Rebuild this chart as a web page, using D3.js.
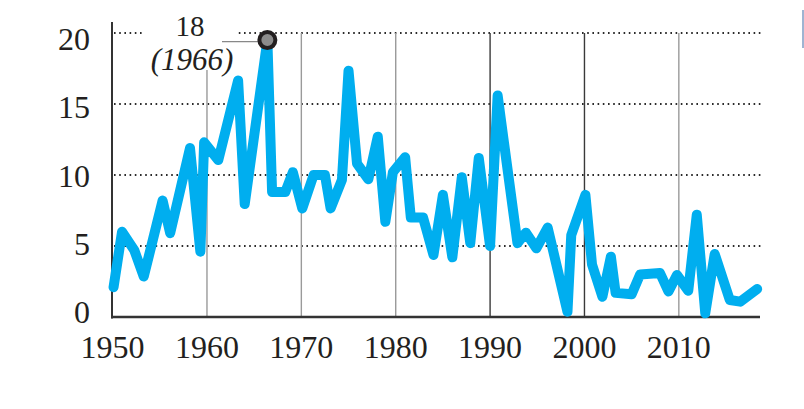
<!DOCTYPE html>
<html>
<head>
<meta charset="utf-8">
<script src="https://cdn.jsdelivr.net/npm/d3@7"></script>
<style>
  html, body { margin: 0; padding: 0; background: #fff; }
  svg { display: block; }
  text { font-family: "Liberation Serif", "Times New Roman", serif; fill: #231f20; }
</style>
</head>
<body>
<svg id="chart" width="804" height="409"></svg>
<script>
// ---- data ----
const years = [1950.1, 1951.0, 1952.3, 1953.3, 1955.3, 1956.1, 1958.2, 1959.3, 1959.7, 1961.2,
  1963.3, 1964.0, 1966.4, 1966.9, 1968.3, 1969.1, 1970.1, 1971.3, 1972.5, 1973.1,
  1974.3, 1975.0, 1975.9, 1977.1, 1978.1, 1978.9, 1979.7, 1981.0, 1981.6, 1982.9,
  1984.0, 1985.0, 1986.0, 1987.0, 1987.9, 1988.8, 1990.0, 1990.8, 1992.9, 1993.8,
  1994.9, 1996.1, 1998.2, 1998.6, 2000.1, 2000.8, 2001.9, 2002.8, 2003.3, 2005.0,
  2005.9, 2008.0, 2008.9, 2009.8, 2011.0, 2011.9, 2012.8, 2013.8, 2015.4, 2016.5, 2018.3];
const values = [2.1, 6.0, 4.7, 2.85, 8.2, 5.9, 11.9, 4.6, 12.3, 11.05,
  16.65, 7.95, 19.5, 8.8, 8.8, 10.2, 7.65, 10.0, 10.0, 7.65,
  9.65, 17.35, 10.8, 9.7, 12.7, 6.7, 10.2, 11.25, 7.0, 7.0,
  4.37, 8.6, 4.2, 9.84, 5.2, 11.2, 5.0, 15.6, 5.2, 5.94,
  4.84, 6.3, 0.37, 5.77, 8.6, 3.7, 1.43, 4.25, 1.7, 1.6,
  3.0, 3.1, 1.8, 2.96, 1.85, 7.2, 0.26, 4.44, 1.2, 1.08, 1.97];
const xTickYears = [1950, 1960, 1970, 1980, 1990, 2000, 2010];
const decadeLines = [1960, 1970, 1980, 1990, 2000, 2010];
const darkDecades = [1990, 2000];
const yTicks = [0, 5, 10, 15, 20];
const peakLabel = "18";
const peakYearLabel = "(1966)";
const peakIndex = 12;

// ---- layout ----
const svg = d3.select("#chart");
const x = d3.scaleLinear().domain([1950, 2018.6]).range([112.6, 760]);
const y = d3.scaleLinear().domain([0, 20]).range([317, 33]);
const yLab = d3.scaleLinear().domain([0, 20]).range([323, 50]);

// dotted horizontal gridlines
svg.append("g").selectAll("line").data(yTicks.filter(d => d > 0)).join("line")
  .attr("x1", 114).attr("x2", 763)
  .attr("y1", d => y(d)).attr("y2", d => y(d))
  .attr("stroke", "#2b2b2b").attr("stroke-width", 2)
  .attr("stroke-dasharray", "1.6,3.6");

// vertical decade lines
svg.append("g").selectAll("line").data(decadeLines).join("line")
  .attr("x1", d => x(d)).attr("x2", d => x(d))
  .attr("y1", y(20)).attr("y2", y(0))
  .attr("stroke", d => darkDecades.includes(d) ? "#3a3a3a" : "#9a9a9a")
  .attr("stroke-width", 1.4);

// white knockout behind annotation
svg.append("rect").attr("x", 143).attr("y", 14).attr("width", 93).attr("height", 56).attr("fill", "#fff");

// axes lines
svg.append("line").attr("x1", 112).attr("x2", 112).attr("y1", 22).attr("y2", 318.5)
  .attr("stroke", "#333").attr("stroke-width", 2);
svg.append("line").attr("x1", 111).attr("x2", x.range()[1]).attr("y1", y(0)).attr("y2", y(0))
  .attr("stroke", "#333").attr("stroke-width", 2.6);

// y labels
svg.append("g").selectAll("text").data(yTicks).join("text")
  .attr("x", 90).attr("y", d => yLab(d))
  .attr("text-anchor", "end").attr("font-size", 32)
  .text(d => d);

// x labels
svg.append("g").selectAll("text").data(xTickYears).join("text")
  .attr("x", d => x(d)).attr("y", 358)
  .attr("text-anchor", "middle").attr("font-size", 32)
  .text(d => d);

// annotation
const px = x(years[peakIndex]), py = y(values[peakIndex]);
svg.append("line").attr("x1", 222).attr("x2", px).attr("y1", py + 1.5).attr("y2", py + 1.5)
  .attr("stroke", "#888").attr("stroke-width", 1.4);
svg.append("text").attr("x", 190).attr("y", 36).attr("text-anchor", "middle")
  .attr("font-size", 29).text(peakLabel);
svg.append("text").attr("x", 192).attr("y", 70).attr("text-anchor", "middle")
  .attr("font-size", 31).attr("font-style", "italic").text(peakYearLabel);

// main line
const line = d3.line().x((d, i) => x(years[i])).y(d => y(d));
svg.append("path").datum(values)
  .attr("d", line)
  .attr("fill", "none").attr("stroke", "#00aeef")
  .attr("stroke-width", 10).attr("stroke-linejoin", "round").attr("stroke-linecap", "round");

// peak marker
svg.append("circle").attr("cx", px).attr("cy", py).attr("r", 8)
  .attr("fill", "#8c8c8c").attr("stroke", "#231f20").attr("stroke-width", 4);

// small edge sliver (from source image)
svg.append("rect").attr("x", 802).attr("y", 10).attr("width", 2).attr("height", 38).attr("fill", "#9fb4d2");
</script>
</body>
</html>
